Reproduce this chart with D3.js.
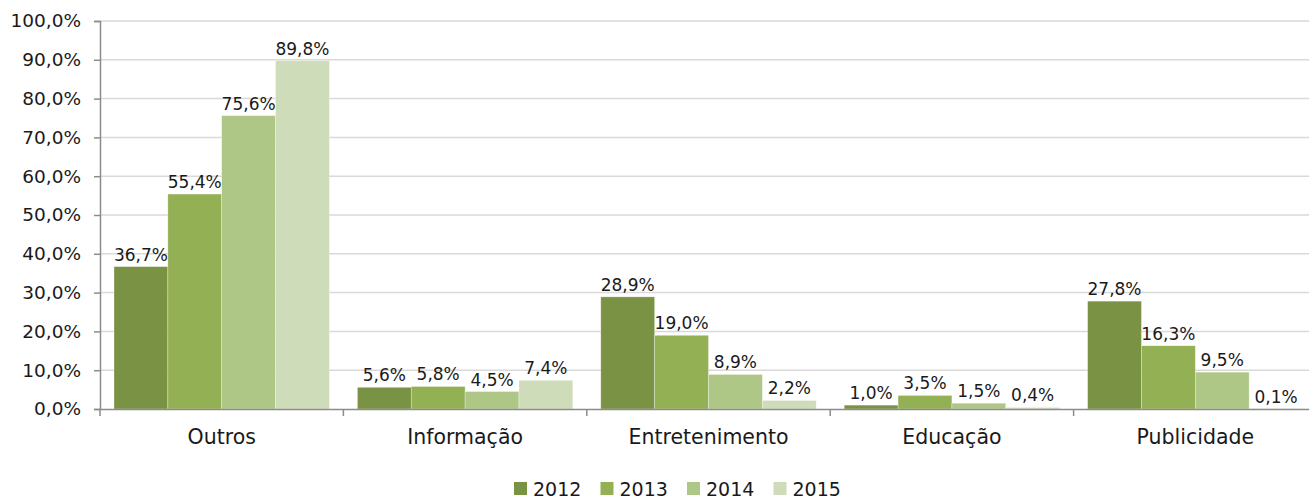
<!DOCTYPE html>
<html lang="pt">
<head>
<meta charset="utf-8">
<title>Categorias 2012-2015</title>
<script src="https://d3js.org/d3.v7.min.js"></script>
<style>
  body { margin: 0; background: #fff; }
  svg text { font-family: "DejaVu Sans", sans-serif; fill: #1a1a1a; }
</style>
</head>
<body>
<script>
// data
var categories = ["Outros", "Informação", "Entretenimento", "Educação", "Publicidade"];
var years = ["2012", "2013", "2014", "2015"];
var v2012 = [36.7, 5.6, 28.9, 1.0, 27.8];
var v2013 = [55.4, 5.8, 19.0, 3.5, 16.3];
var v2014 = [75.6, 4.5, 8.9, 1.5, 9.5];
var v2015 = [89.8, 7.4, 2.2, 0.4, 0.1];
var yTicks = [0, 10, 20, 30, 40, 50, 60, 70, 80, 90, 100];
var colors = ["#7a9244", "#94b055", "#aec786", "#cfdcb9"];

var series = [v2012, v2013, v2014, v2015];
var w = 1309, h = 500;
var plotLeft = 100, plotTop = 21, plotBottom = 409, plotRight = 1317;

var svg = d3.select("body").append("svg")
    .attr("width", w)
    .attr("height", h);

var x0 = d3.scaleBand().domain(categories).range([plotLeft, plotRight]);
var x1 = d3.scaleBand().domain(years).range([14, x0.bandwidth() - 14]);
var y = d3.scaleLinear().domain([0, 100]).range([plotBottom, plotTop]);
var fmt = function(v) { return d3.format(".1f")(v).replace(".", ",") + "%"; };

// gridlines
svg.append("g")
    .selectAll("line")
    .data(yTicks.slice(1))
    .enter().append("line")
    .attr("x1", plotLeft).attr("x2", w)
    .attr("y1", function(d) { return y(d); })
    .attr("y2", function(d) { return y(d); })
    .attr("stroke", "#d9d9d9")
    .attr("stroke-width", 1.5);

// y axis
var yAxis = svg.append("g")
    .attr("transform", "translate(" + plotLeft + ",0)")
    .call(d3.axisLeft(y).tickValues(yTicks).tickSize(6).tickPadding(13).tickFormat(fmt));
yAxis.select(".domain").attr("stroke", "#8c8c8c").attr("stroke-width", 1.5);
yAxis.selectAll(".tick line").attr("stroke", "#8c8c8c").attr("stroke-width", 1.5);
yAxis.selectAll("text").style("font-size", "18.5px").attr("fill", "#1a1a1a");

// bars
var rows = categories.map(function(c, i) {
  return { cat: c, vals: years.map(function(yr, j) { return { year: yr, j: j, v: series[j][i] }; }) };
});

var groups = svg.append("g").selectAll("g")
    .data(rows)
    .enter().append("g")
    .attr("transform", function(d) { return "translate(" + x0(d.cat) + ",0)"; });

groups.selectAll("rect")
    .data(function(d) { return d.vals; })
    .enter().append("rect")
    .attr("x", function(d) { return x1(d.year); })
    .attr("width", x1.bandwidth())
    .attr("y", function(d) { return y(d.v); })
    .attr("height", function(d) { return plotBottom - y(d.v); })
    .attr("fill", function(d) { return colors[d.j]; })
    .attr("stroke", "rgba(255,255,255,0.5)")
    .attr("stroke-width", 0.6);

groups.selectAll("text.lbl")
    .data(function(d) { return d.vals; })
    .enter().append("text")
    .attr("class", "lbl")
    .attr("x", function(d) { return x1(d.year) + x1.bandwidth() / 2; })
    .attr("y", function(d) { return y(d.v) - 6; })
    .attr("text-anchor", "middle")
    .style("font-size", "17px")
    .text(function(d) { return fmt(d.v); });

// x axis
var xAxis = svg.append("g")
    .attr("transform", "translate(0," + plotBottom + ")")
    .call(d3.axisBottom(x0).tickSize(0).tickPadding(20));
xAxis.select(".domain").attr("stroke", "#8c8c8c").attr("stroke-width", 1.5);
xAxis.selectAll("text").style("font-size", "20.5px").attr("fill", "#1a1a1a");

svg.append("g").selectAll("line")
    .data(categories)
    .enter().append("line")
    .attr("x1", function(d) { return x0(d); })
    .attr("x2", function(d) { return x0(d); })
    .attr("y1", plotBottom).attr("y2", plotBottom + 7)
    .attr("stroke", "#8c8c8c")
    .attr("stroke-width", 1.5);

// legend
var legend = svg.append("g").attr("transform", "translate(514,482)");
var item = legend.selectAll("g")
    .data(years)
    .enter().append("g")
    .attr("transform", function(d, i) { return "translate(" + (i * 86.5) + ",0)"; });
item.append("rect")
    .attr("width", 13).attr("height", 13)
    .attr("fill", function(d, i) { return colors[i]; });
item.append("text")
    .attr("x", 19).attr("y", 14)
    .style("font-size", "19px")
    .text(function(d) { return d; });
</script>
</body>
</html>
